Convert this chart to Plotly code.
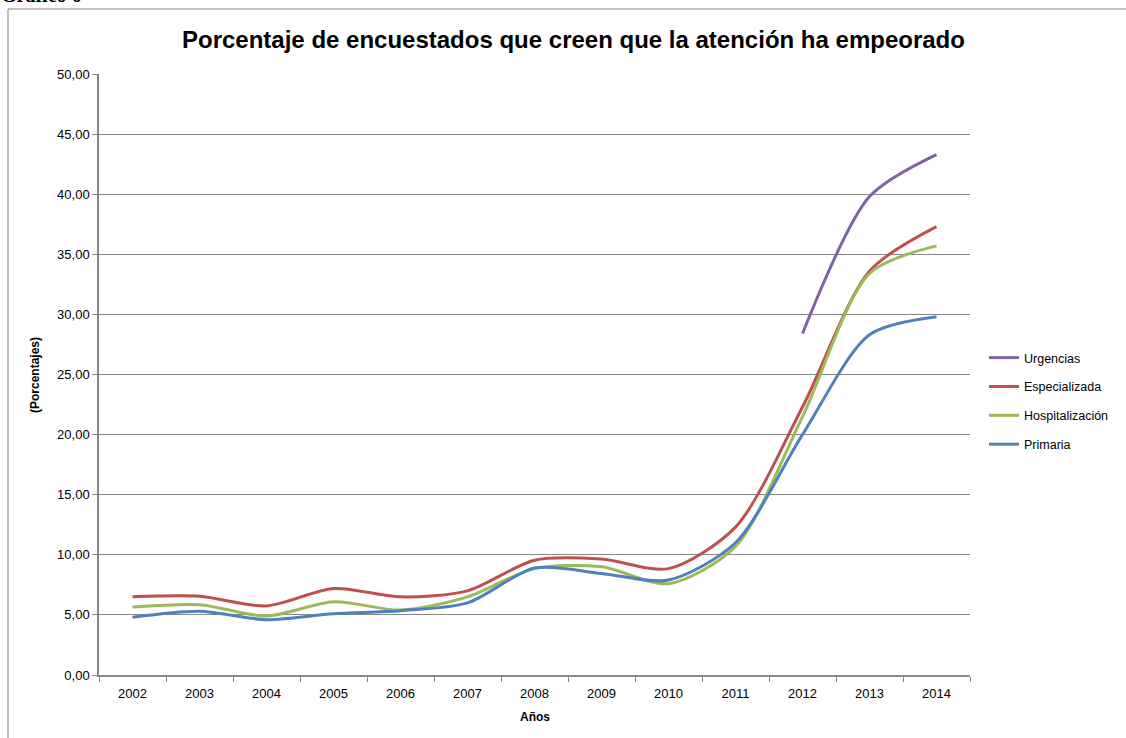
import plotly.graph_objects as go

W, H = 1126, 738

years = [str(y) for y in range(2002, 2015)]
urgencias = [None] * 10 + [28.4, 39.8, 43.3]
especializada = [6.5, 6.55, 5.75, 7.2, 6.5, 7.0, 9.55, 9.65, 8.85, 12.3, 22.3, 33.6, 37.3]
hospitalizacion = [5.65, 5.85, 4.9, 6.1, 5.4, 6.5, 8.85, 9.0, 7.6, 10.7, 21.5, 33.4, 35.7]
primaria = [4.8, 5.3, 4.6, 5.1, 5.35, 6.0, 8.9, 8.45, 7.9, 11.0, 20.0, 28.3, 29.8]

series = [
    ("Urgencias", urgencias, "#8064A2"),
    ("Especializada", especializada, "#C0504D"),
    ("Hospitalización", hospitalizacion, "#9BBB59"),
    ("Primaria", primaria, "#4F81BD"),
]

fig = go.Figure()
for name, vals, col in series:
    fig.add_trace(go.Scatter(
        x=years, y=vals, name=name, mode="lines",
        line=dict(color=col, width=3, shape="spline", smoothing=0.8),
        legendgroup=name,
    ))

def px(x):
    return x / W

def py(y):
    return 1 - y / H

font = "Liberation Sans"
fig.update_layout(
    width=W, height=H,
    margin=dict(l=0, r=0, t=0, b=0, autoexpand=False),
    paper_bgcolor="white", plot_bgcolor="white",
    separators=",.",
    showlegend=True,
    font=dict(family=font, size=12, color="black"),
    legend=dict(x=px(984), y=py(343), xanchor="left", yanchor="top",
                font=dict(size=12.5, family=font), tracegroupgap=9.6,
                bgcolor="rgba(0,0,0,0)", itemwidth=30),
    xaxis=dict(domain=[px(99), px(970)], type="category", range=[-0.5, 12.5],
               showline=True, linecolor="#878787", linewidth=1.5,
               ticks="outside", tickson="boundaries", ticklen=5, tickcolor="#878787",
               showgrid=False, tickfont=dict(size=13), fixedrange=True, automargin=False,
               ticklabelstandoff=6),
    yaxis=dict(domain=[py(675), py(74)], range=[0, 50], dtick=5, tickformat=".2f",
               showline=True, linecolor="#878787", linewidth=1.5,
               ticks="outside", ticklen=5, tickcolor="#878787",
               showgrid=True, gridcolor="#878787", gridwidth=1,
               zeroline=False, tickfont=dict(size=13), automargin=False, fixedrange=True),
    annotations=[
        dict(text="<b>Porcentaje de encuestados que creen que la atención ha empeorado</b>",
             xref="paper", yref="paper", x=px(573), y=py(40), xanchor="center", yanchor="middle",
             showarrow=False, font=dict(size=24, family=font, color="black")),
        dict(text="<b>Gráfico 6</b>", xref="paper", yref="paper", x=px(-1), y=py(8),
             xanchor="left", yanchor="bottom", showarrow=False,
             font=dict(size=20, family="Liberation Serif", color="black")),
        dict(text="<b>Años</b>", xref="paper", yref="paper", x=px(535), y=py(717),
             xanchor="center", yanchor="middle", showarrow=False,
             font=dict(size=12, family=font, color="black")),
        dict(text="<b>(Porcentajes)</b>", xref="paper", yref="paper", x=px(35), y=py(375),
             xanchor="center", yanchor="middle", showarrow=False, textangle=-90,
             font=dict(size=12, family=font, color="black")),
    ],
    shapes=[
        dict(type="line", xref="paper", yref="paper", x0=px(8), x1=px(8), y0=py(9), y1=py(740),
             line=dict(color="#878787", width=1)),
        dict(type="line", xref="paper", yref="paper", x0=px(8), x1=px(1130), y0=py(9), y1=py(9),
             line=dict(color="#878787", width=1)),
    ],
)

fig.write_html("out.html", config={"displayModeBar": False},
               post_script="document.body.style.margin='0';document.body.style.overflow='hidden';")
